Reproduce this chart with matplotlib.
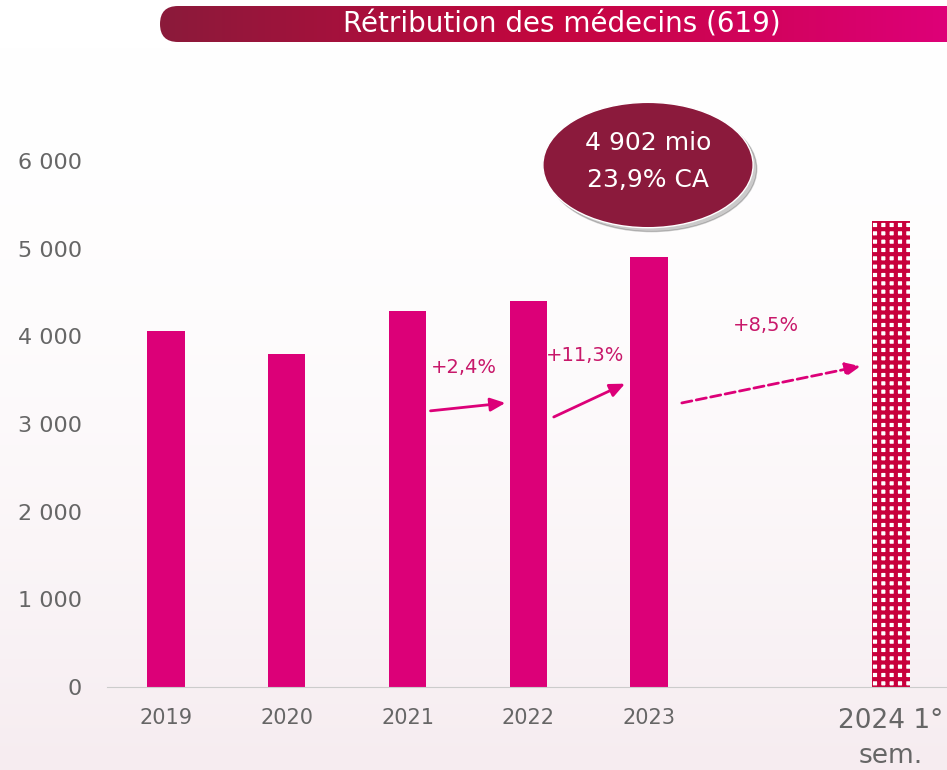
import numpy as np
import matplotlib.pyplot as plt
from matplotlib.patches import Ellipse, FancyBboxPatch
from matplotlib.colors import LinearSegmentedColormap

# données (mio CHF)
years = ["2019", "2020", "2021", "2022", "2023", "2024 1°\nsem."]
pos = [0, 1, 2, 3, 4, 6]
values = [4060, 3800, 4290, 4400, 4902, 5310]
yticks = [0, 1000, 2000, 3000, 4000, 5000, 6000]
growth = ["+2,4%", "+11,3%", "+8,5%"]

pink = "#DC0078"
grey = "#666666"
plt.rcParams['font.family'] = ['DejaVu Sans']

fig = plt.figure(figsize=(9.47, 7.7), dpi=100)

# fond léger
bg = fig.add_axes([0, 0, 1, 1], zorder=-10)
grad = np.linspace(0, 1, 256).reshape(-1, 1) ** 2
bg_cmap = LinearSegmentedColormap.from_list("bg", ["#FFFFFF", "#F6ECF0"])
bg.imshow(grad, aspect="auto", cmap=bg_cmap, extent=[0, 1, 0, 1], origin="upper")
bg.axis("off")

ax = fig.add_axes([107 / 947, 1 - 687 / 770, 840 / 947, (687 - 161) / 770])
ax.patch.set_alpha(0)

ax.bar(pos[:5], values[:5], width=0.31, color=pink, zorder=2)
plt.rcParams['hatch.linewidth'] = 3.0
ax.bar(pos[5], values[5], width=0.31, facecolor="white", edgecolor="#C8003C",
       hatch="++", linewidth=0, zorder=2)

ax.set_xlim(-0.488, 6.465)
ax.set_ylim(0, 6000)
ax.set_yticks(yticks)
ax.set_yticklabels([f"{v:,}".replace(",", " ") for v in yticks], fontsize=16, color=grey)
ax.set_xticks(pos)
ax.set_xticklabels(years, fontsize=15, color=grey)
last = ax.get_xticklabels()[-1]
last.set_fontsize(19)
last.set_linespacing(1.45)
ax.tick_params(axis="y", length=0, pad=18)
ax.tick_params(axis="x", length=0, pad=15)
for s in ["top", "right", "left"]:
    ax.spines[s].set_visible(False)
ax.spines["bottom"].set_color("#CCCCCC")

# flèches de croissance
arrows = [((2.19, 3150), (2.81, 3240), "-"),
          ((3.21, 3080), (3.80, 3460), "-"),
          ((4.27, 3240), (5.75, 3660), "--")]
labels_xy = [(2.47, 3650), (3.47, 3780), (4.97, 4120)]
for (start, end, ls), txt, (tx, ty) in zip(arrows, growth, labels_xy):
    ax.annotate("", xy=end, xytext=start,
                arrowprops=dict(arrowstyle="-|>,head_length=0.9,head_width=0.4",
                                color=pink, lw=2, linestyle=ls, shrinkA=0, shrinkB=0))
    ax.text(tx, ty, txt, ha="center", va="center", fontsize=14, color="#C8186A")

# bulle 2023
shadow = Ellipse((4.02, 5910), 1.74, 1430, color="black", alpha=0.2, clip_on=False, zorder=3)
ax.add_patch(shadow)
ell = Ellipse((3.99, 5954), 1.74, 1430, facecolor="#8B1A3C", edgecolor="white",
              lw=1, clip_on=False, zorder=4)
ax.add_patch(ell)
ax.text(3.99, 6205, "4 902 mio", ha="center", va="center", fontsize=18, color="white", zorder=5)
ax.text(3.99, 5783, "23,9% CA", ha="center", va="center", fontsize=18, color="white", zorder=5)

# bandeau titre
tax = fig.add_axes([160 / 947, 1 - 42 / 770, 787 / 947, 36 / 770])
tcmap = LinearSegmentedColormap.from_list("t", ["#8B1A3A", "#C4063F", "#DE0078"])
im = tax.imshow(np.linspace(0, 1, 256).reshape(1, -1), aspect="auto", cmap=tcmap,
                extent=[0, 1, 0, 1])
r = 18 / 787
box = FancyBboxPatch((0, 0), 1.2, 1, boxstyle=f"round,pad=0,rounding_size={r}",
                     mutation_aspect=0.5 / r, transform=tax.transAxes,
                     facecolor="none", edgecolor="none")
tax.add_patch(box)
im.set_clip_path(box)
tax.set_xlim(0, 1)
tax.set_ylim(0, 1)
tax.axis("off")
tax.text(0.51, 0.5, "Rétribution des médecins (619)", ha="center", va="center",
         fontsize=20, color="white")

fig.savefig("out.png", dpi=100)
